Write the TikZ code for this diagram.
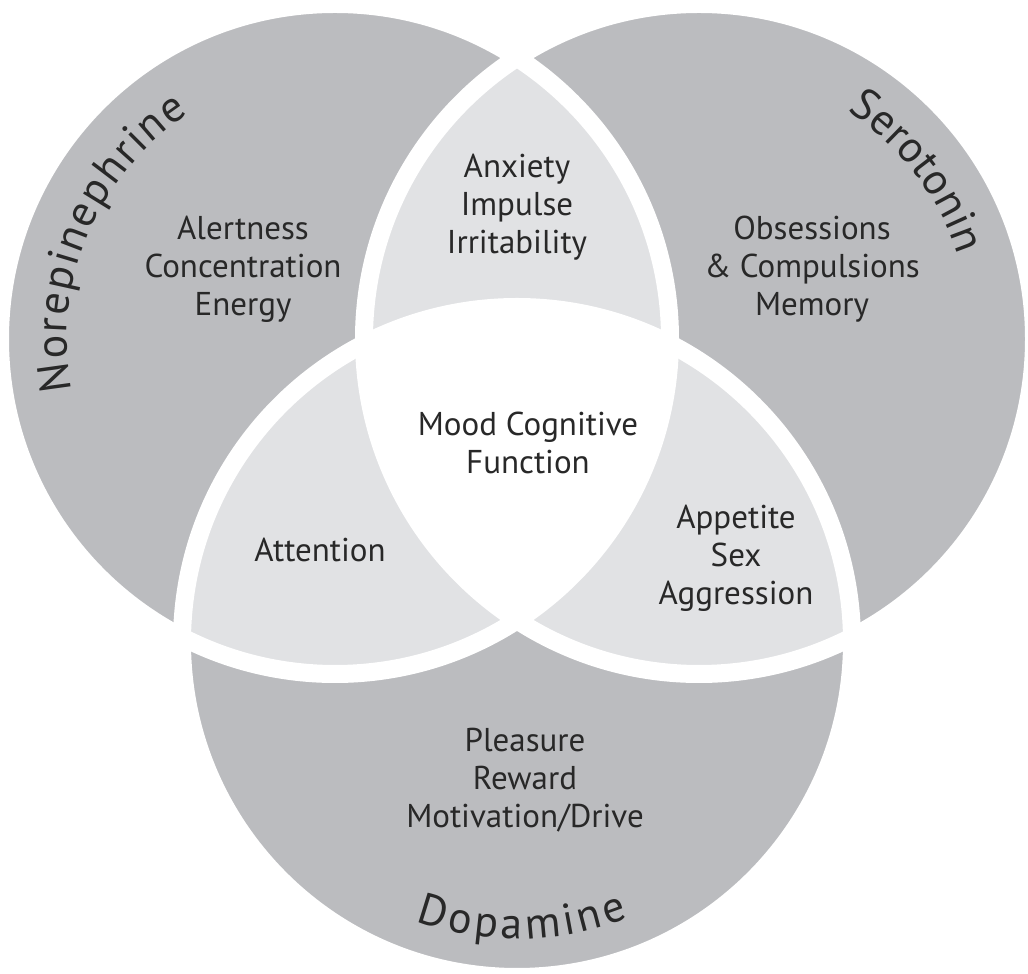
\documentclass[tikz,border=0pt]{standalone}
\usepackage{fontspec}
\setmainfont{PT Sans}
\usepackage{tikz}
\usetikzlibrary{decorations.text}
\definecolor{ringgray}{RGB}{187,188,191}
\definecolor{lensgray}{RGB}{225,226,228}
\definecolor{inkgray}{RGB}{40,40,40}
\newcommand{\bodyfont}{\fontsize{33}{38}\selectfont}
\newcommand{\namefont}{\fontsize{44}{44}\selectfont}

\begin{document}
\begin{tikzpicture}[x=1pt,y=1pt,
    effect/.style={align=center, text=inkgray, font=\bodyfont},
    rim/.style={draw=white, line width=18pt},
    curvename/.style={decorate, decoration={text along path,
      text align={fit to path}, text color=inkgray, text={|\namefont|#1}}}]
  \fill[white] (0,0) rectangle (1028,974);
  \useasboundingbox (0,0) rectangle (1028,974);
  \coordinate (nor) at (335,635);
  \coordinate (ser) at (699,635);
  \coordinate (dop) at (517,332);

  \fill[ringgray] (nor) circle[radius=335];
  \fill[ringgray] (ser) circle[radius=335];
  \fill[ringgray] (dop) circle[radius=335];
  \begin{scope}
    \clip (nor) circle[radius=335];
    \fill[lensgray] (ser) circle[radius=335];
    \fill[lensgray] (dop) circle[radius=335];
  \end{scope}
  \begin{scope}
    \clip (ser) circle[radius=335];
    \fill[lensgray] (dop) circle[radius=335];
  \end{scope}
  \begin{scope}
    \clip (nor) circle[radius=335];
    \clip (ser) circle[radius=335];
    \fill[white] (dop) circle[radius=335];
  \end{scope}
  \draw[rim] (nor) circle[radius=335];
  \draw[rim] (ser) circle[radius=335];
  \draw[rim] (dop) circle[radius=335];

  \path[curvename=Norepinephrine] (nor) ++(191:268) arc[start angle=191, end angle=123, radius=268];
  \path[curvename=Serotonin] (ser) ++(57:272) arc[start angle=57, end angle=18, radius=272];
  \path[curvename=Dopamine] (dop) ++(250:297) arc[start angle=250, end angle=292, radius=297];

  \node[effect] (norfx) at (243,705) {Alertness\\Concentration\\Energy};
  \node[effect] (serfx) at (812,705) {Obsessions\\\& Compulsions\\Memory};
  \node[effect] (anxfx) at (517,767) {Anxiety\\Impulse\\Irritability};
  \node[effect] (moodfx) at (528,531) {Mood Cognitive\\Function};
  \node[effect] (attfx) at (320,424) {Attention};
  \node[effect] (appfx) at (736,416) {Appetite\\Sex\\Aggression};
  \node[effect] (dopfx) at (525,194) {Pleasure\\Reward\\Motivation/Drive};
\end{tikzpicture}
\end{document}
